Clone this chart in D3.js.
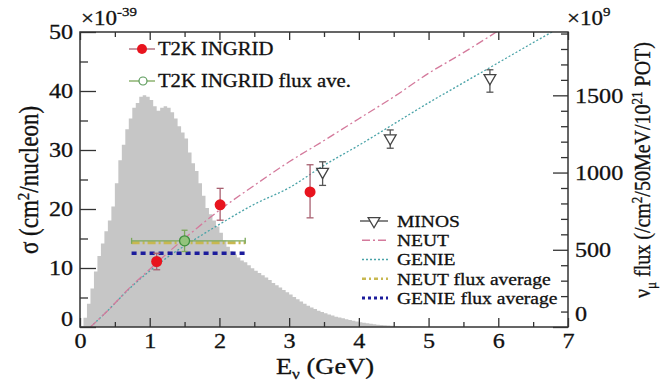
<!DOCTYPE html>
<html>
<head>
<meta charset="utf-8">
<script src="https://cdn.jsdelivr.net/npm/d3@7"></script>
<style>
  body { margin: 0; background: #fff; }
  svg text { font-family: "Liberation Serif", "DejaVu Serif", serif; fill: #111; stroke: #111; stroke-width: 0.3px; }
</style>
</head>
<body>
<div id="chart"></div>
<script>
// flux histogram, 50 MeV bins starting at 0 GeV (x10^9 /cm2/50MeV/10^21 POT)
const binWidth = 0.05
const fluxVals = [5, 60, 150, 250, 360, 460, 540, 620, 690, 780,
  930, 1080, 1180, 1280, 1350, 1420, 1450, 1490, 1500, 1490,
  1470, 1430, 1400, 1420, 1430, 1420, 1390, 1350, 1300, 1260,
  1220, 1130, 1060, 1010, 930, 850, 770, 730, 690, 650,
  610, 560, 520, 490, 470, 450, 430, 420, 400, 380,
  365, 350, 335, 320, 305, 285, 270, 255, 240, 225,
  210, 195, 180, 165, 150, 138, 127, 116, 106, 97,
  89, 81, 74, 67, 61, 56, 50, 45, 40, 35,
  31, 27, 24, 21, 18, 15, 13, 11, 9, 8,
  6, 5, 4, 3, 3, 2, 2, 1, 1, 0]

// model predictions (x10^-39 cm2/nucleon)
const modelE = [0.15, 0.4, 0.7, 1.0, 1.3, 1.6, 2.0, 2.5, 3.0, 3.5, 4.0, 4.5, 5.0, 5.5, 6.0, 6.5, 7.0]
const neutSigma = [0, 2.8, 6.5, 9.8, 13.0, 16.0, 19.8, 24.0, 28.0, 31.6, 35.3, 39.0, 43.0, 46.5, 50.2, 54.0, 57.5]
const genieSigma = [0, 2.8, 6.4, 9.5, 12.2, 14.5, 17.4, 20.8, 23.6, 27.4, 30.8, 34.4, 38.0, 41.4, 44.8, 48.2, 51.5]

// T2K INGRID
const t2kE = [1.1, 2.01, 3.3]
const t2kSigma = [11.1, 20.7, 22.9]
const t2kLo = [9.7, 18.1, 18.5]
const t2kHi = [12.5, 23.5, 27.5]

// T2K INGRID flux averaged
const aveE = 1.5, aveSigma = 14.6, aveLo = 12.8, aveHi = 16.4
const aveRange = [0.74, 2.37]
const neutFluxAve = 14.3
const genieFluxAve = 12.5

// MINOS
const minosE = [3.48, 4.45, 5.88]
const minosSigma = [26.3, 32.0, 42.2]
const minosLo = [24.0, 30.3, 39.8]
const minosHi = [28.0, 33.4, 43.6]

const width = 663, height = 381
const pL = 80, pR = 568, pT = 32, pB = 327
const sx = 1.15 // the original text is a bit wide

let x = d3.scaleLinear([0, 7], [pL, pR])
let y = d3.scaleLinear([0, 50], [pB, pT])
let yR = d3.scaleLinear([0, 1910], [pB, pT])

let svg = d3.select('#chart').append('svg')
  .attr('width', width).attr('height', height)

// widen text horizontally around its x anchor
function stretch(sel) {
  sel.each(function () {
    let t = d3.select(this)
    let tx = +t.attr('x') || 0
    t.attr('transform', `translate(${tx},0) scale(${sx},1) translate(${-tx},0)`)
  })
}

svg.append('clipPath').attr('id', 'clip')
  .append('rect').attr('x', pL).attr('y', pT).attr('width', pR - pL).attr('height', pB - pT)

// histogram
let histPts = fluxVals.map((v, i) => [i * binWidth, v])
histPts.push([fluxVals.length * binWidth, 0])
svg.append('path')
  .datum(histPts)
  .attr('fill', '#c6c6c6')
  .attr('d', d3.area().curve(d3.curveStepAfter).x(d => x(d[0])).y0(yR(0)).y1(d => yR(d[1])))

let plot = svg.append('g').attr('clip-path', 'url(#clip)')

// model lines
let line = d3.line().curve(d3.curveMonotoneX).x(d => x(d[0])).y(d => y(d[1]))
plot.append('path').datum(modelE.map((e, i) => [e, genieSigma[i]]))
  .attr('fill', 'none').attr('stroke', '#4aa3a8').attr('stroke-width', 1.3)
  .attr('stroke-dasharray', '2,2').attr('d', line)
plot.append('path').datum(modelE.map((e, i) => [e, neutSigma[i]]))
  .attr('fill', 'none').attr('stroke', '#d47a9c').attr('stroke-width', 1.3)
  .attr('stroke-dasharray', '8,3,2,3').attr('d', line)

// flux averages
plot.append('line')
  .attr('x1', x(aveRange[0])).attr('x2', x(aveRange[1]))
  .attr('y1', y(genieFluxAve)).attr('y2', y(genieFluxAve))
  .attr('stroke', '#1c1c9c').attr('stroke-width', 3.5).attr('stroke-dasharray', '5,4')
plot.append('line')
  .attr('x1', x(aveRange[0])).attr('x2', x(aveRange[1]))
  .attr('y1', y(neutFluxAve)).attr('y2', y(neutFluxAve))
  .attr('stroke', '#c8b850').attr('stroke-width', 3).attr('stroke-dasharray', '8,3,2,3')

// green flux averaged point with x and y error bars
let ave = plot.append('g').attr('stroke', '#7aa85a').attr('stroke-width', 1.3)
ave.append('line').attr('x1', x(aveRange[0])).attr('x2', x(aveRange[1]))
  .attr('y1', y(aveSigma)).attr('y2', y(aveSigma))
aveRange.forEach(e => ave.append('line').attr('x1', x(e)).attr('x2', x(e))
  .attr('y1', y(aveSigma) - 3).attr('y2', y(aveSigma) + 3))
ave.append('line').attr('x1', x(aveE)).attr('x2', x(aveE)).attr('y1', y(aveLo)).attr('y2', y(aveHi))
;[aveLo, aveHi].forEach(v => ave.append('line').attr('x1', x(aveE) - 3).attr('x2', x(aveE) + 3)
  .attr('y1', y(v)).attr('y2', y(v)))
plot.append('circle').attr('cx', x(aveE)).attr('cy', y(aveSigma)).attr('r', 5)
  .attr('fill', '#93c47d').attr('stroke', '#3f8f3f').attr('stroke-width', 1.3)

// error bars helper
function errBars(g, es, lo, hi, color) {
  es.forEach((e, i) => {
    g.append('line').attr('x1', x(e)).attr('x2', x(e)).attr('y1', y(lo[i])).attr('y2', y(hi[i]))
      .attr('stroke', color).attr('stroke-width', 1.3)
    ;[lo[i], hi[i]].forEach(v => g.append('line')
      .attr('x1', x(e) - 3.5).attr('x2', x(e) + 3.5).attr('y1', y(v)).attr('y2', y(v))
      .attr('stroke', color).attr('stroke-width', 1.3))
  })
}

// MINOS
errBars(plot, minosE, minosLo, minosHi, '#555')
let tri = d3.symbol().type(d3.symbolTriangle).size(60)
plot.selectAll('.minos').data(minosE).enter().append('path')
  .attr('transform', (d, i) => `translate(${x(d)},${y(minosSigma[i])}) rotate(180)`)
  .attr('d', tri).attr('fill', 'white').attr('stroke', '#444').attr('stroke-width', 1.3)

// T2K INGRID
errBars(plot, t2kE, t2kLo, t2kHi, '#a86070')
plot.selectAll('.t2k').data(t2kE).enter().append('circle')
  .attr('cx', d => x(d)).attr('cy', (d, i) => y(t2kSigma[i])).attr('r', 5.5)
  .attr('fill', '#e8141e')

// axes
svg.append('rect').attr('x', pL).attr('y', pT).attr('width', pR - pL).attr('height', pB - pT)
  .attr('fill', 'none').attr('stroke', '#333').attr('stroke-width', 1.5)

function styleAxis(g) {
  g.select('.domain').remove()
  g.selectAll('line').attr('stroke', '#333').attr('stroke-width', 1.3)
  g.selectAll('text').attr('font-size', 21).call(stretch)
}

svg.append('g').attr('transform', `translate(${pL},0)`)
  .call(d3.axisLeft(y).tickValues(d3.range(5, 50, 10)).tickSizeInner(-8).tickSizeOuter(0).tickFormat(''))
  .call(styleAxis)
let yAxis = svg.append('g').attr('transform', `translate(${pL},0)`)
  .call(d3.axisLeft(y).tickValues([0, 10, 20, 30, 40, 50]).tickSizeInner(-16).tickSizeOuter(0).tickPadding(7))
  .call(styleAxis)
yAxis.selectAll('.tick').filter(d => d === 0).select('text').attr('dy', '-0.05em')

svg.append('g').attr('transform', `translate(${pR},0)`)
  .call(d3.axisRight(yR).tickValues(d3.range(100, 1910, 100).filter(v => v % 500)).tickSizeInner(-7).tickSizeOuter(0).tickFormat(''))
  .call(styleAxis)
let rAxis = svg.append('g').attr('transform', `translate(${pR},0)`)
  .call(d3.axisRight(yR).tickValues([0, 500, 1000, 1500]).tickSizeInner(-15).tickSizeOuter(0).tickPadding(7).tickFormat(d3.format('d')))
  .call(styleAxis)
rAxis.selectAll('.tick').filter(d => d === 0).select('text').attr('dy', '-0.3em')

let halfTicks = d3.range(0.5, 7, 1)
;[[pB, d3.axisBottom], [pT, d3.axisTop]].forEach(([pos, ax]) => {
  svg.append('g').attr('transform', `translate(0,${pos})`)
    .call(ax(x).tickValues(halfTicks).tickSizeInner(-5).tickSizeOuter(0).tickFormat(''))
    .call(styleAxis)
})
svg.append('g').attr('transform', `translate(0,${pT})`)
  .call(d3.axisTop(x).ticks(7).tickSizeInner(-8).tickSizeOuter(0).tickFormat(''))
  .call(styleAxis)
svg.append('g').attr('transform', `translate(0,${pB})`)
  .call(d3.axisBottom(x).ticks(7).tickSizeInner(-9).tickSizeOuter(0).tickPadding(6))
  .call(styleAxis)

// multipliers
let m1 = svg.append('text').attr('x', 81).attr('y', 25).attr('font-size', 20).text('×10')
m1.append('tspan').attr('dy', -9).attr('font-size', 13).text('-39')
let m2 = svg.append('text').attr('x', 567).attr('y', 25).attr('font-size', 20).text('×10')
m2.append('tspan').attr('dy', -9).attr('font-size', 13).text('9')
stretch(m1); stretch(m2)

// axis titles
let yt = svg.append('text').attr('transform', `translate(38,180) scale(${sx},1) rotate(-90)`)
  .attr('text-anchor', 'middle').attr('font-size', 23)
yt.append('tspan').text('σ (cm')
yt.append('tspan').attr('dy', -8).attr('font-size', 15).text('2')
yt.append('tspan').attr('dy', 8).text('/nucleon)')

let rt = svg.append('text').attr('transform', `translate(650,170) scale(${sx},1) rotate(-90)`)
  .attr('text-anchor', 'middle').attr('font-size', 20)
rt.append('tspan').text('ν')
rt.append('tspan').attr('dy', 5).attr('font-size', 13).text('μ')
rt.append('tspan').attr('dy', -5).text(' flux (/cm')
rt.append('tspan').attr('dy', -7).attr('font-size', 13).text('2')
rt.append('tspan').attr('dy', 7).text('/50MeV/10')
rt.append('tspan').attr('dy', -7).attr('font-size', 13).text('21')
rt.append('tspan').attr('dy', 7).text(' POT)')

let xt = svg.append('text').attr('x', 325).attr('y', 374).attr('text-anchor', 'middle').attr('font-size', 23)
xt.append('tspan').text('E')
xt.append('tspan').attr('dy', 5).attr('font-size', 15).text('ν')
xt.append('tspan').attr('dy', -5).text(' (GeV)')
stretch(xt)

// legend top-left
let lg1 = svg.append('g')
lg1.append('line').attr('x1', 129).attr('x2', 155).attr('y1', 49).attr('y2', 49).attr('stroke', '#a86070').attr('stroke-width', 1.3)
lg1.append('circle').attr('cx', 142).attr('cy', 49).attr('r', 5).attr('fill', '#e8141e')
lg1.append('text').attr('x', 158).attr('y', 55).attr('font-size', 18).text('T2K INGRID')
lg1.append('line').attr('x1', 129).attr('x2', 155).attr('y1', 81).attr('y2', 81).attr('stroke', '#7aa85a').attr('stroke-width', 1.3)
lg1.append('circle').attr('cx', 143).attr('cy', 81).attr('r', 4).attr('fill', 'white').attr('stroke', '#5a9a5a').attr('stroke-width', 1.2)
lg1.append('text').attr('x', 158).attr('y', 87).attr('font-size', 18).text('T2K INGRID flux ave.')
lg1.selectAll('text').call(stretch)

// legend bottom-right
let lgItems = ['MINOS', 'NEUT', 'GENIE', 'NEUT flux average', 'GENIE flux average']
let lgY = d3.scalePoint(lgItems, [221, 298])
let lg2 = svg.append('g')
lg2.selectAll('text').data(lgItems).enter().append('text')
  .attr('x', 397).attr('y', d => lgY(d) + 6).attr('font-size', 17).text(d => d)
  .call(stretch)
lg2.append('line').attr('x1', 360).attr('x2', 388).attr('y1', lgY('MINOS')).attr('y2', lgY('MINOS')).attr('stroke', '#444').attr('stroke-width', 1.3)
lg2.append('path').attr('transform', `translate(374,${lgY('MINOS')}) rotate(180)`).attr('d', tri)
  .attr('fill', 'white').attr('stroke', '#444').attr('stroke-width', 1.3)
let lgStyles = [['NEUT', '#d47a9c', '8,3,2,3', 1.3], ['GENIE', '#4aa3a8', '2,2', 1.3],
  ['NEUT flux average', '#c8b850', '4,3,2,3', 2.5], ['GENIE flux average', '#1c1c9c', '3,3', 3]]
lgStyles.forEach(([k, c, dash, w]) => {
  lg2.append('line').attr('x1', 362).attr('x2', 388).attr('y1', lgY(k)).attr('y2', lgY(k))
    .attr('stroke', c).attr('stroke-width', w).attr('stroke-dasharray', dash)
})
</script>
</body>
</html>
